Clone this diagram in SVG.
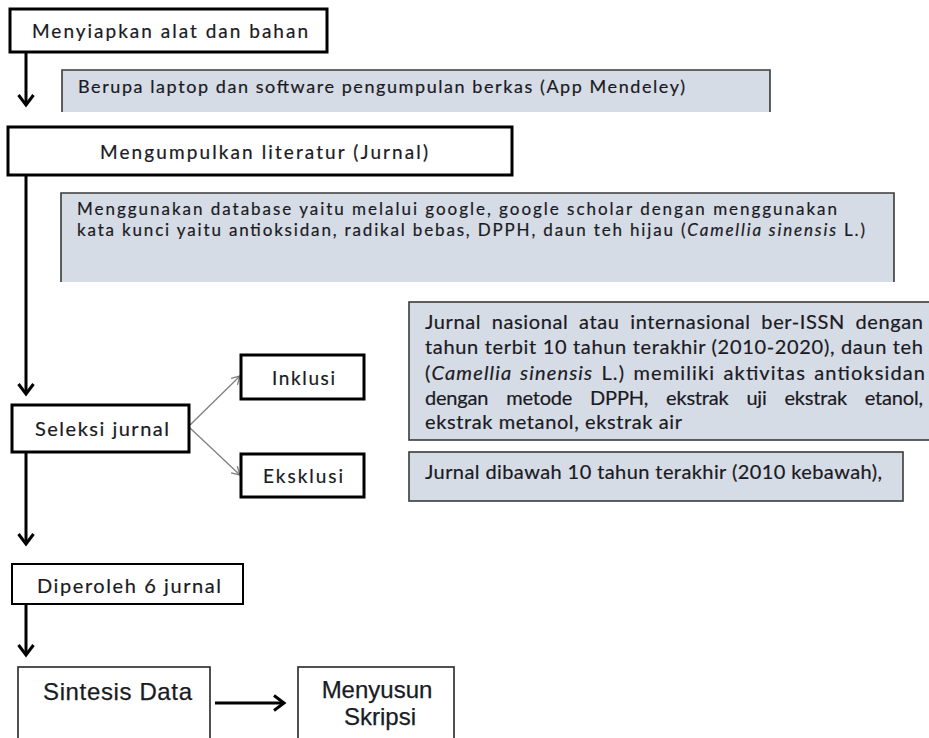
<svg xmlns="http://www.w3.org/2000/svg" width="929" height="738" viewBox="0 0 929 738">
<style>
  .bx { fill: #ffffff; stroke: #000000; stroke-width: 3; }
  .bx2 { fill: #ffffff; stroke: #000000; stroke-width: 2; }
  .bx3 { fill: #ffffff; stroke: #262626; stroke-width: 1.6; }
  .gfill { fill: #d6dce5; stroke: none; }
  .gline { fill: none; stroke: #3a3a3a; stroke-width: 1.6; }
  .gbox { fill: #d6dce5; stroke: #3a3a3a; stroke-width: 1.6; }
  .t { font-family: Lato, "Open Sans", sans-serif; fill: #1a1a24; stroke: #1a1a24; stroke-width: 0.2; }
  .a { font-family: "Liberation Sans", Arial, sans-serif; fill: #1a1a24; stroke: #1a1a24; stroke-width: 0.25; }
  .thick { fill: none; stroke: #000000; stroke-width: 3; }
  .thin { fill: none; stroke: #7f7f7f; stroke-width: 1.3; }
  .i { font-style: italic; }
</style>
<defs>
  <marker id="ah" markerUnits="userSpaceOnUse" markerWidth="30" markerHeight="30" viewBox="-15 -15 30 30" refX="0" refY="0" orient="auto">
    <path d="M-10,-7.5 L0,0 L-10,7.5" fill="none" stroke="#000" stroke-width="3"/>
  </marker>
  <marker id="ahg" markerUnits="userSpaceOnUse" markerWidth="20" markerHeight="20" viewBox="-10 -10 20 20" refX="0" refY="0" orient="auto">
    <path d="M-8,-4.5 L0,0 L-8,4.5" fill="none" stroke="#7f7f7f" stroke-width="1.3"/>
  </marker>
</defs>
<rect width="929" height="738" fill="#ffffff"/>

<g id="connectors">
  <line class="thick" x1="26" y1="52" x2="26" y2="105" marker-end="url(#ah)"/>
  <line class="thick" x1="26" y1="175" x2="26" y2="394" marker-end="url(#ah)"/>
  <line class="thin" x1="190" y1="425" x2="240" y2="376" marker-end="url(#ahg)"/>
  <line class="thin" x1="190" y1="428" x2="240" y2="475" marker-end="url(#ahg)"/>
  <line class="thick" x1="26" y1="452" x2="26" y2="544" marker-end="url(#ah)"/>
  <line class="thick" x1="26" y1="604" x2="26" y2="655" marker-end="url(#ah)"/>
  <line class="thick" x1="215" y1="703" x2="284" y2="703" marker-end="url(#ah)"/>
</g>

<g id="menyiapkan">
  <rect class="bx" x="10" y="9" width="317" height="43"/>
  <text class="t" x="32" y="38" font-size="19" textLength="276" lengthAdjust="spacing">Menyiapkan alat dan bahan</text>
</g>

<g id="note-alat">
  <rect class="gfill" x="62" y="70" width="708" height="42"/>
  <path class="gline" d="M62,112 V70 H770 V112"/>
  <text class="t" x="78" y="93" font-size="18" textLength="607" lengthAdjust="spacing">Berupa laptop dan software pengumpulan berkas (App Mendeley)</text>
</g>

<g id="mengumpulkan">
  <rect class="bx" x="8" y="127" width="504" height="48"/>
  <text class="t" x="100" y="159" font-size="19" textLength="328" lengthAdjust="spacing">Mengumpulkan literatur (Jurnal)</text>
</g>

<g id="note-database">
  <rect class="gfill" x="61" y="193" width="833" height="89"/>
  <path class="gline" d="M61,282 V193 H894 V282"/>
  <text class="t" x="77" y="215" font-size="17" textLength="760" lengthAdjust="spacing">Menggunakan database yaitu melalui google, google scholar dengan menggunakan</text>
  <text class="t" x="77" y="236" font-size="17" textLength="788" lengthAdjust="spacing">kata kunci yaitu antioksidan, radikal bebas, DPPH, daun teh hijau (<tspan class="i">Camellia sinensis</tspan> L.)</text>
</g>

<g id="seleksi">
  <rect class="bx" x="12" y="405" width="177" height="47"/>
  <text class="t" x="35" y="436" font-size="20" textLength="134" lengthAdjust="spacing">Seleksi jurnal</text>
</g>

<g id="inklusi">
  <rect class="bx" x="241" y="355" width="123" height="44"/>
  <text class="t" x="272" y="385" font-size="19" textLength="63" lengthAdjust="spacing">Inklusi</text>
</g>

<g id="eksklusi">
  <rect class="bx" x="241" y="454" width="123" height="43"/>
  <text class="t" x="263" y="483" font-size="19" textLength="80" lengthAdjust="spacing">Eksklusi</text>
</g>

<g id="note-inklusi">
  <rect class="gbox" x="409" y="302" width="530" height="138"/>
  <text class="t" x="425" y="329" font-size="20" word-spacing="5" textLength="498" lengthAdjust="spacing">Jurnal nasional atau internasional ber-ISSN dengan</text>
  <text class="t" x="425" y="354" font-size="20" textLength="498" lengthAdjust="spacing">tahun terbit 10 tahun terakhir (2010-2020), daun teh</text>
  <text class="t" x="425" y="380" font-size="20" word-spacing="2" textLength="500" lengthAdjust="spacing">(<tspan class="i">Camellia sinensis</tspan> L.) memiliki aktivitas antioksidan</text>
  <text class="t" x="425" y="405" font-size="20" word-spacing="13" textLength="498" lengthAdjust="spacing">dengan metode DPPH, ekstrak uji ekstrak etanol,</text>
  <text class="t" x="425" y="429" font-size="20" textLength="257" lengthAdjust="spacing">ekstrak metanol, ekstrak air</text>
</g>

<g id="note-eksklusi">
  <rect class="gbox" x="409" y="452" width="494" height="49"/>
  <text class="t" x="425" y="479" font-size="20" textLength="457" lengthAdjust="spacing">Jurnal dibawah 10 tahun terakhir (2010 kebawah),</text>
</g>

<g id="diperoleh">
  <rect class="bx2" x="12" y="564" width="231" height="40"/>
  <text class="t" x="37" y="593" font-size="20" textLength="184" lengthAdjust="spacing">Diperoleh 6 jurnal</text>
</g>

<g id="sintesis">
  <rect class="bx3" x="18" y="667" width="192" height="80"/>
  <text class="a" x="43" y="700" font-size="24" textLength="149" lengthAdjust="spacing">Sintesis Data</text>
</g>

<g id="menyusun">
  <rect class="bx3" x="298" y="667" width="156" height="80"/>
  <text class="a" x="377" y="698" font-size="24" text-anchor="middle">Menyusun</text>
  <text class="a" x="380" y="725" font-size="24" text-anchor="middle">Skripsi</text>
</g>
</svg>
